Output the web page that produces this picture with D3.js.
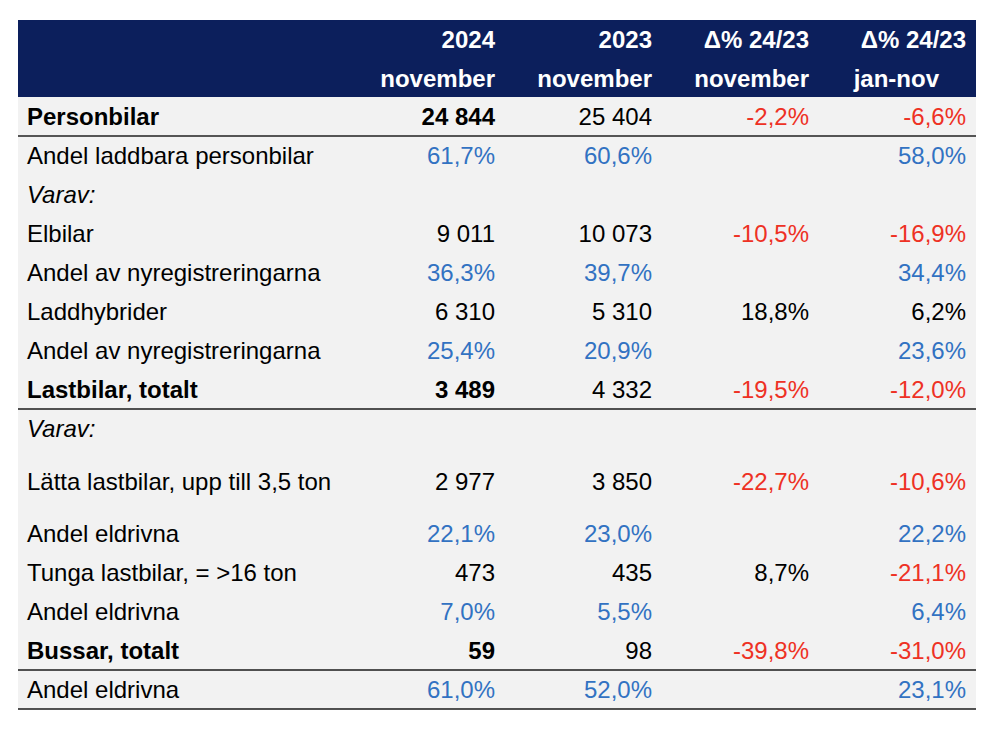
<!DOCTYPE html>
<html>
<head>
<meta charset="utf-8">
<script src="https://cdn.jsdelivr.net/npm/d3@7"></script>
<style>
  html, body { margin: 0; padding: 0; background: #ffffff; }
  svg { display: block; font-family: "Liberation Sans", Arial, Helvetica, sans-serif; }
</style>
</head>
<body>
<svg id="chart" width="1000" height="735"></svg>
<script>
// ---------- DATA ----------
const headerTop = ["2024", "2023", "Δ% 24/23", "Δ% 24/23"];
const headerBottom = ["november", "november", "november", "jan-nov"];
const columns = ["y2024", "y2023", "dNov", "dYtd"];

const categories = [
  "Personbilar",
  "Andel laddbara personbilar",
  "Varav:",
  "Elbilar",
  "Andel av nyregistreringarna",
  "Laddhybrider",
  "Andel av nyregistreringarna",
  "Lastbilar, totalt",
  "Varav:",
  "Lätta lastbilar, upp till 3,5 ton",
  "Andel eldrivna",
  "Tunga lastbilar, = >16 ton",
  "Andel eldrivna",
  "Bussar, totalt",
  "Andel eldrivna"
];
// row kind: total (bold), share (percent, blue), sub (italic heading), count
const rowKind = ["total","share","sub","count","share","count","share","total","sub","count","share","count","share","total","share"];

const y2024 = [24844, 61.7, null, 9011, 36.3, 6310, 25.4, 3489, null, 2977, 22.1, 473, 7.0, 59, 61.0];
const y2023 = [25404, 60.6, null, 10073, 39.7, 5310, 20.9, 4332, null, 3850, 23.0, 435, 5.5, 98, 52.0];
const dNov  = [-2.2, null, null, -10.5, null, 18.8, null, -19.5, null, -22.7, null, 8.7, null, -39.8, null];
const dYtd  = [-6.6, 58.0, null, -16.9, 34.4, 6.2, 23.6, -12.0, null, -10.6, 22.2, -21.1, 6.4, -31.0, 23.1];

// ---------- LAYOUT ----------
const W = 1000, H = 735;
const tableLeft = 18, tableRight = 976;
const headerTopY = 20, headerBottomY = 97;
const rowHeights = [39, 39, 39, 39, 39, 39, 39, 39, 39, 53, 52, 39, 39, 39, 39];
const ruleAfter = [0, 7, 13, 14];

const NAVY = "#0c1f5c", BG = "#f2f2f2", BLUE = "#3272c2", RED = "#ee3124", INK = "#000000";
const FS = 24;

const loc = d3.formatLocale({ decimal: ",", thousands: " ", grouping: [3], currency: ["", " kr"], minus: "-" });
const fmtCount = loc.format(",d");
const fmtPct = v => loc.format(".1f")(v) + "%";

const rows = categories.map((c, i) => ({
  label: c, kind: rowKind[i],
  y2024: y2024[i], y2023: y2023[i], dNov: dNov[i], dYtd: dYtd[i]
}));

const tops = [headerBottomY];
rowHeights.forEach((h, i) => tops.push(tops[i] + h));
const yTop = d3.scaleOrdinal().domain(d3.range(rows.length + 1)).range(tops);

const x = d3.scaleBand().domain(columns).range([339, 967]).paddingInner(0).paddingOuter(0);
const colRight = c => x(c) + x.bandwidth() - 1;

const svg = d3.select("#chart");

// body background
svg.append("rect")
  .attr("x", tableLeft).attr("y", headerBottomY)
  .attr("width", tableRight - tableLeft).attr("height", yTop(rows.length) - headerBottomY)
  .attr("fill", BG);

// header
svg.append("rect")
  .attr("x", tableLeft).attr("y", headerTopY)
  .attr("width", tableRight - tableLeft).attr("height", headerBottomY - headerTopY)
  .attr("fill", NAVY);

const hdr = svg.append("g").attr("font-weight", "bold").attr("font-size", FS).attr("fill", "#ffffff");
hdr.selectAll("text.h1").data(columns).join("text")
  .attr("class", "h1")
  .attr("x", c => colRight(c)).attr("y", 48)
  .attr("text-anchor", "end")
  .text((c, i) => headerTop[i]);
hdr.selectAll("text.h2").data(columns).join("text")
  .attr("class", "h2")
  .attr("x", c => colRight(c) - (c === "dYtd" ? 27 : 0)).attr("y", 87)
  .attr("text-anchor", "end")
  .text((c, i) => headerBottom[i]);

// rows
const body = svg.append("g").attr("font-size", FS);
const rowG = body.selectAll("g.row").data(rows).join("g")
  .attr("class", "row")
  .attr("transform", (d, i) => `translate(0,${yTop(i + 1) - 11})`);

rowG.append("text")
  .attr("x", 27)
  .attr("fill", INK)
  .attr("font-weight", d => d.kind === "total" ? "bold" : "normal")
  .attr("font-style", d => d.kind === "sub" ? "italic" : "normal")
  .text(d => d.label);

function cellText(d, c) {
  const v = d[c];
  if (v === null || v === undefined) return "";
  if (c === "dNov" || c === "dYtd") return fmtPct(v);
  if (d.kind === "share") return fmtPct(v);
  return fmtCount(v);
}
function cellColor(d, c) {
  const v = d[c];
  if (d.kind === "share") return BLUE;
  if ((c === "dNov" || c === "dYtd") && v < 0) return RED;
  return INK;
}

rowG.each(function(d) {
  d3.select(this).selectAll("text.v").data(columns).join("text")
    .attr("class", "v")
    .attr("x", c => colRight(c))
    .attr("text-anchor", "end")
    .attr("fill", c => cellColor(d, c))
    .attr("font-weight", c => (d.kind === "total" && c === "y2024") ? "bold" : "normal")
    .text(c => cellText(d, c));
});

// horizontal rules
svg.append("g").selectAll("line").data(ruleAfter).join("line")
  .attr("x1", tableLeft).attr("x2", tableRight)
  .attr("y1", i => yTop(i + 1)).attr("y2", i => yTop(i + 1))
  .attr("stroke", i => i === 0 ? "#555555" : "#1a1a1a")
  .attr("stroke-width", i => i === 0 ? 2 : 1.5);
</script>
</body>
</html>
